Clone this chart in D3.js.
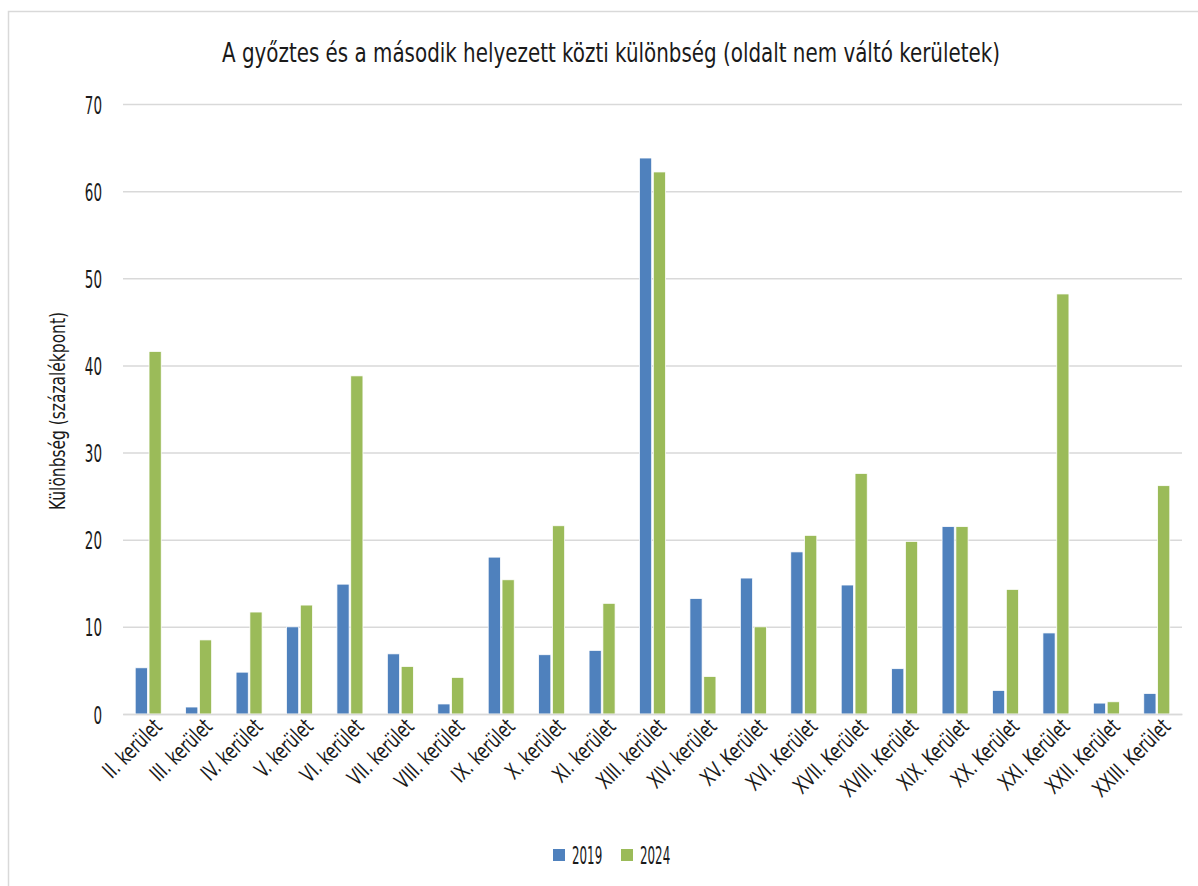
<!DOCTYPE html>
<html>
<head>
<meta charset="utf-8">
<script src="https://cdn.jsdelivr.net/npm/d3@7/dist/d3.min.js"></script>
<style>
  html, body { margin: 0; padding: 0; background: #ffffff; }
  svg { display: block; }
  text { font-family: "DejaVu Sans Condensed", "DejaVu Sans", sans-serif; fill: #1a1a1a; }
</style>
</head>
<body>
<svg id="chart" width="1198" height="886"></svg>
<script>
const categories = ["II. kerület","III. kerület","IV. kerület","V. kerület","VI. kerület","VII. kerület","VIII. kerület","IX. kerület","X. kerület","XI. kerület","XIII. kerület","XIV. kerület","XV. Kerület","XVI. Kerület","XVII. Kerület","XVIII. Kerület","XIX. Kerület","XX. Kerület","XXI. Kerület","XXII. Kerület","XXIII. Kerület"];
const values2019 = [5.3, 0.8, 4.8, 10.0, 14.9, 6.9, 1.15, 18.0, 6.8, 7.3, 63.8, 13.25, 15.6, 18.6, 14.8, 5.2, 21.5, 2.7, 9.3, 1.25, 2.35];
const values2024 = [41.6, 8.5, 11.7, 12.5, 38.8, 5.45, 4.2, 15.4, 21.6, 12.7, 62.2, 4.3, 10.0, 20.5, 27.6, 19.8, 21.5, 14.3, 48.2, 1.4, 26.2];
const seriesNames = ["2019", "2024"];
const seriesColors = ["#4f81bd", "#9bbb59"];
const yTicks = [0, 10, 20, 30, 40, 50, 60, 70];
const titleText = "A győztes és a második helyezett közti különbség (oldalt nem váltó kerületek)";
const yTitleText = "Különbség (százalékpont)";

const svg = d3.select("#chart");
const plot = { left: 123, right: 1182, top: 104, bottom: 714 };

// chart border
svg.append("rect").attr("x", 8.5).attr("y", 11.5).attr("width", 1300).attr("height", 1000)
  .attr("fill", "none").attr("stroke", "#d9d9d9").attr("stroke-width", 1.5);

const x0 = d3.scaleBand().domain(categories).range([plot.left, plot.right]).paddingInner(0).paddingOuter(0);
const x1 = d3.scaleBand().domain(seriesNames).range([0, 26]).paddingInner(0.12);
const y = d3.scaleLinear().domain([0, 70]).range([plot.bottom, plot.top]);

// gridlines + y tick labels
const yAxis = d3.axisLeft(y).tickValues(yTicks).tickSize(-(plot.right - plot.left)).tickPadding(0).tickFormat(d3.format("d"));
const gy = svg.append("g").attr("transform", `translate(${plot.left},0)`).call(yAxis);
gy.select(".domain").remove();
gy.selectAll(".tick line").attr("stroke", "#d9d9d9").attr("stroke-width", 1.5);
gy.selectAll(".tick text")
  .attr("x", 0).attr("dy", "0.36em")
  .attr("font-size", 25).attr("fill", "#1a1a1a")
  .attr("transform", "translate(-21,0) scale(0.6,1)")
  .style("font-family", '"DejaVu Sans Condensed", "DejaVu Sans", sans-serif');

// bars
const data = categories.map((c, i) => ({ cat: c, vals: [values2019[i], values2024[i]] }));
const groups = svg.append("g").selectAll("g").data(data).join("g")
  .attr("transform", d => `translate(${x0(d.cat) + (x0.bandwidth() - 26) / 2},0)`);
groups.selectAll("rect").data(d => d.vals.map((v, j) => ({ s: seriesNames[j], v, j })))
  .join("rect")
  .attr("x", d => x1(d.s))
  .attr("width", x1.bandwidth())
  .attr("y", d => y(d.v))
  .attr("height", d => y(0) - y(d.v))
  .attr("fill", d => seriesColors[d.j])
  .attr("stroke", "#ffffff").attr("stroke-width", 0.75);

// x axis
const xAxis = d3.axisBottom(x0).tickSize(0).tickPadding(0);
const gx = svg.append("g").attr("transform", `translate(0,${plot.bottom})`).call(xAxis);
gx.select(".domain").attr("stroke", "#d9d9d9").attr("stroke-width", 1.5);
gx.selectAll(".tick text")
  .attr("font-size", 22)
  .attr("text-anchor", "end")
  .attr("dy", 0)
  .attr("y", 0)
  .attr("transform", "translate(15,14) rotate(-45) scale(0.78,1)")
  .attr("fill", "#1a1a1a")
  .style("font-family", '"DejaVu Sans Condensed", "DejaVu Sans", sans-serif');

// title
svg.append("text").attr("x", 611).attr("y", 62).attr("text-anchor", "middle")
  .attr("font-size", 27)
  .attr("textLength", 778).attr("lengthAdjust", "spacingAndGlyphs")
  .text(titleText);

// y axis title
svg.append("text").attr("transform", "translate(65,411) rotate(-90)").attr("text-anchor", "middle")
  .attr("font-size", 22)
  .attr("textLength", 198).attr("lengthAdjust", "spacingAndGlyphs")
  .text(yTitleText);

// legend
const legendX = [553, 621];
const legend = svg.append("g").attr("transform", "translate(0,849)");
const li = legend.selectAll("g").data(seriesNames).join("g")
  .attr("transform", (d, i) => `translate(${legendX[i]},0)`);
li.append("rect").attr("width", 12).attr("height", 12).attr("fill", (d, i) => seriesColors[i]);
li.append("text").attr("font-size", 24)
  .attr("transform", "translate(19,15) scale(0.55,1)")
  .text(d => d);
</script>
</body>
</html>
